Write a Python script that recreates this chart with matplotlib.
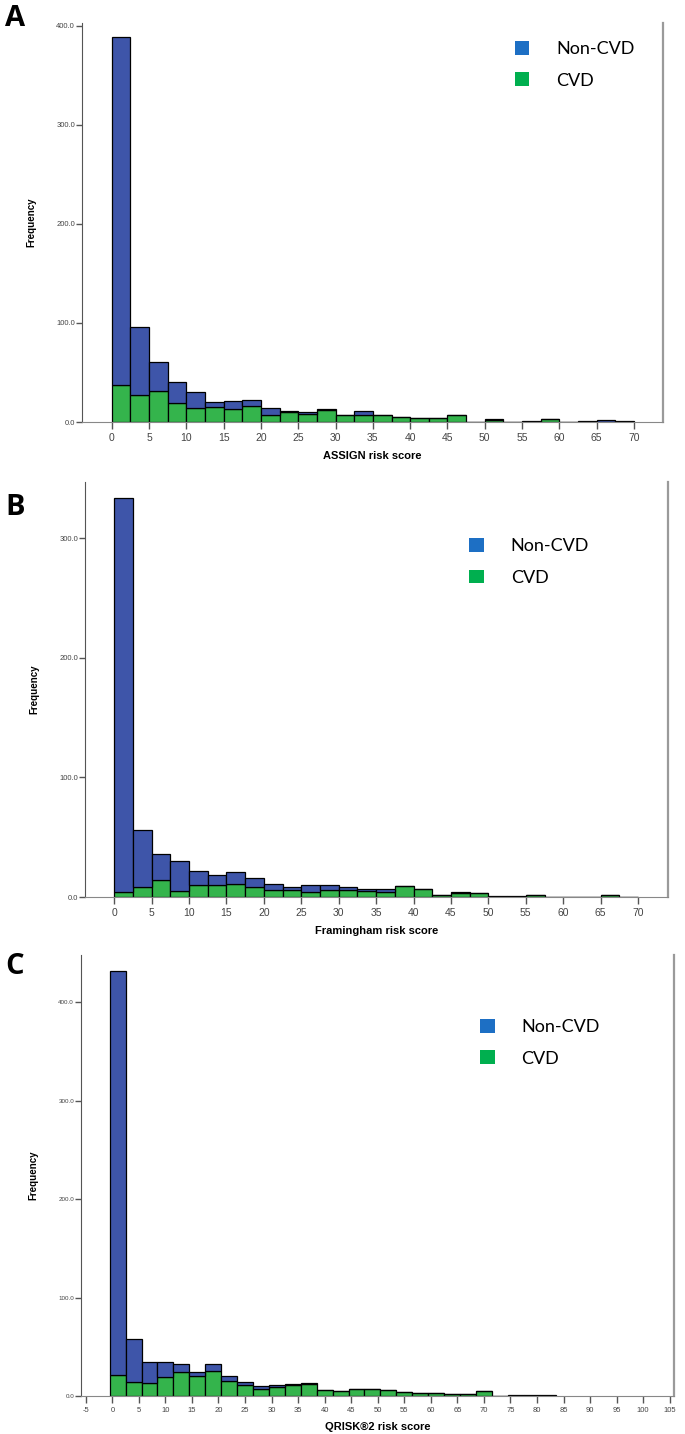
import numpy as np
import matplotlib.pyplot as plt
from matplotlib.patches import Patch

# ASSIGN risk score counts per bin (width 2.5, starting at 0)
assign_noncvd = [352, 69, 30, 21, 16, 5, 8, 6, 7, 1, 2, 1, 0, 4, 0, 0, 0, 0, 0, 0, 1, 0, 1, 0, 0, 1, 2, 1]
assign_cvd = [37, 27, 31, 19, 14, 15, 13, 16, 7, 10, 8, 12, 7, 7, 7, 5, 4, 4, 7, 0, 2, 0, 0, 3, 0, 0, 0, 0]

# Framingham risk score counts per bin (width 2.5, starting at 0)
fram_noncvd = [330, 48, 22, 25, 12, 8, 10, 8, 5, 2, 6, 4, 2, 2, 3, 0, 0, 0, 1, 0, 1, 1, 0, 0, 0, 0, 0, 0]
fram_cvd = [4, 8, 14, 5, 10, 10, 11, 8, 6, 6, 4, 6, 6, 5, 4, 9, 7, 2, 3, 3, 0, 0, 2, 0, 0, 0, 2, 0]

# QRISK2 risk score counts per bin (width 3, starting at -0.5)
qrisk_noncvd = [411, 44, 22, 16, 9, 4, 8, 5, 3, 3, 2, 1, 1, 0, 0, 0, 0, 0, 0, 0, 0, 0, 0, 0, 0, 1, 1, 1]
qrisk_cvd = [21, 14, 13, 19, 24, 20, 25, 15, 11, 7, 9, 11, 12, 6, 5, 7, 7, 6, 4, 3, 3, 2, 2, 5, 0, 0, 0, 0]

labels = ['Non-CVD', 'CVD']
bar_blue = '#3E55A9'
bar_green = '#34B44C'
leg_blue = '#1D6FC4'
leg_green = '#00AF4F'

W, H = 685, 1434
fig = plt.figure(figsize=(W / 100, H / 100), dpi=100)


def px_axes(left, right, top, bottom):
    return fig.add_axes([left / W, 1 - bottom / H, (right - left) / W, (bottom - top) / H])


def draw_panel(ax, noncvd, cvd, start, width, xlim, ylim, xticks, yticks, xlabel,
               ytick_size, leg_pos, letter, letter_xy):
    noncvd = np.array(noncvd)
    cvd = np.array(cvd)
    edges = start + np.arange(len(cvd)) * width
    ax.bar(edges, cvd, width=width, align='edge', color=bar_green,
           edgecolor='black', linewidth=0.9)
    ax.bar(edges, noncvd, bottom=cvd, width=width, align='edge', color=bar_blue,
           edgecolor='black', linewidth=0.9)

    ax.set_xlim(*xlim)
    ax.set_ylim(*ylim)
    ax.set_xticks(xticks)
    ax.set_xticklabels([str(t) for t in xticks], fontsize=7.5, color='#444444',
                       fontfamily='Liberation Sans')
    ax.set_yticks(yticks)
    ax.set_yticklabels([f'{t:.1f}' for t in yticks], fontsize=ytick_size, color='#444444',
                       fontfamily='Liberation Sans')
    ax.tick_params(axis='x', length=5, width=1, color='#555555', pad=3)
    ax.tick_params(axis='y', length=4, width=1, color='#555555', pad=1)

    ax.spines['top'].set_visible(False)
    ax.spines['right'].set_color('#9a9a9a')
    ax.spines['right'].set_linewidth(1.6)
    ax.spines['left'].set_color('#555555')
    ax.spines['bottom'].set_color('#888888')

    ax.set_xlabel(xlabel, fontsize=8, fontweight='bold', fontfamily='Liberation Sans', labelpad=6)
    ax.set_ylabel('Frequency', fontsize=7, fontweight='bold', fontfamily='Liberation Sans', labelpad=14)

    handles = [Patch(facecolor=leg_blue, edgecolor='none'), Patch(facecolor=leg_green, edgecolor='none')]
    ax.legend(handles, labels, loc='upper left', bbox_to_anchor=leg_pos, frameon=False,
              prop={'family': 'Lato', 'size': 13}, handlelength=0.8, handleheight=0.8,
              handletextpad=1.5, labelspacing=0.85, borderpad=0, borderaxespad=0)

    fig.text(letter_xy[0] / W, 1 - letter_xy[1] / H, letter, fontsize=21, fontweight='bold',
             ha='center', va='center', fontfamily='Open Sans')


# Panel A
axA = px_axes(82, 663, 23, 422)
draw_panel(axA, assign_noncvd, assign_cvd, 0, 2.5, (-4.0, 73.9), (0, 403),
           list(range(0, 75, 5)), [0, 100, 200, 300, 400], 'ASSIGN risk score', 5.5,
           (0.745, 0.955), 'A', (15, 18))

# Panel B
axB = px_axes(85, 668, 482, 897)
draw_panel(axB, fram_noncvd, fram_cvd, 0, 2.5, (-3.9, 74.0), (0, 347),
           list(range(0, 75, 5)), [0, 100, 200, 300], 'Framingham risk score', 5.5,
           (0.659, 0.865), 'B', (15, 508))

# Panel C
axC = px_axes(81, 674, 955, 1396)
draw_panel(axC, qrisk_noncvd, qrisk_cvd, -0.5, 3, (-5.9, 105.8), (0, 448),
           list(range(-5, 110, 5)), [0, 100, 200, 300, 400], 'QRISK\u00ae2 risk score', 4.5,
           (0.673, 0.855), 'C', (15, 967))
axC.tick_params(axis='x', labelsize=5.5)

fig.savefig('out.png', dpi=100)
plt.close()
